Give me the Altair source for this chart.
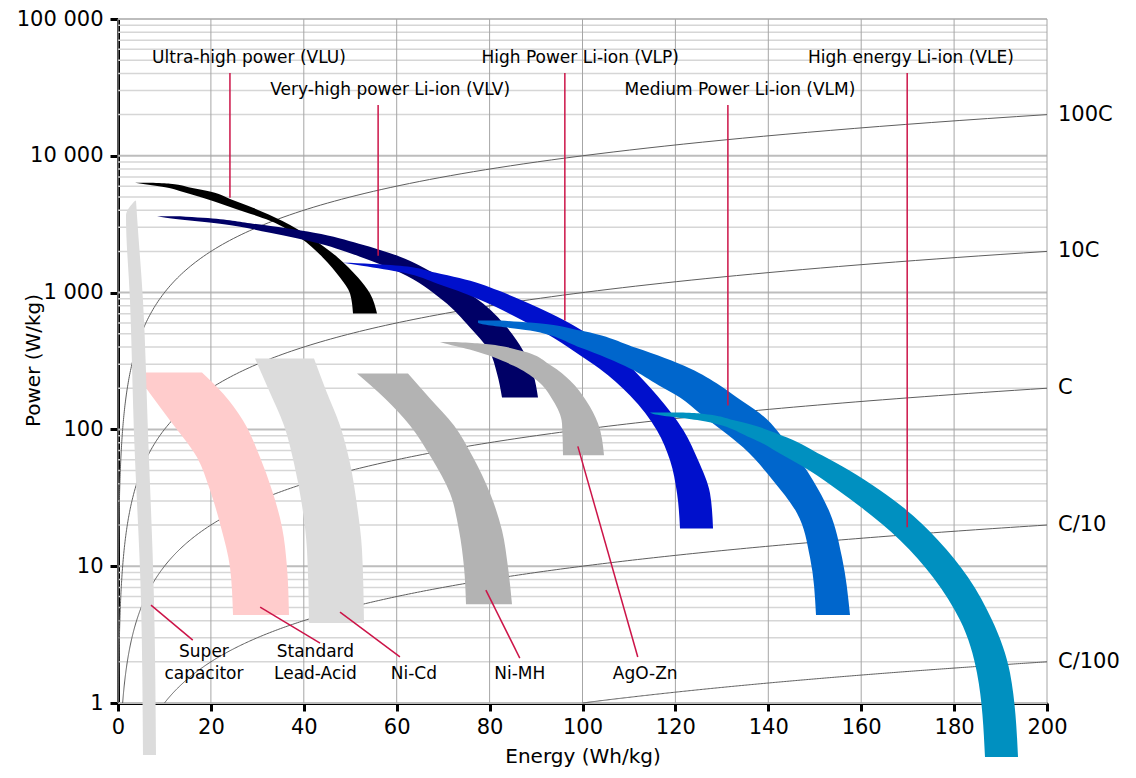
import altair as alt
import numpy as np
import pandas as pd

FONT = "DejaVu Sans"
CRIMSON = "#CC1448"

# ---------------- axes ----------------
X_TICKS = [0, 20, 40, 60, 80, 100, 120, 140, 160, 180, 200]
Y_TICKS = [1, 10, 100, 1000, 10000, 100000]
Y_TICK_LABELS = ["1", "10", "100", "1 000", "10 000", "100 000"]
GRID_DECADES = [1, 10, 100, 1000, 10000]
GRID_MULTIPLES = [2, 3, 4, 5, 6, 7, 8, 9]

# ---------------- C-rate iso lines ----------------
C_RATES = [100, 10, 1, 0.1, 0.01]
C_LABELS = ["100C", "10C", "C", "C/10", "C/100"]

# ---------------- technology bands (power levels, energy range at each level) ----------------
BAND_NAMES = ["Standard Lead-Acid", "Super capacitor", "Ni-Cd", "Ni-MH", "VLU", "VLV",
              "AgO-Zn", "VLP", "VLM", "VLE"]
BAND_COLORS = ["#FFCCCC", "#DCDCDC", "#DCDCDC", "#B3B3B3", "#000000", "#000066",
               "#B3B3B3", "#0010CC", "#0066CC", "#0090C0"]

SUPERCAP_P = [4694, 3648, 874, 93.5, 5.65, 0.417]
SUPERCAP_E_LO = [3.66, 1.72, 2.58, 3.44, 4.95, 5.38]
SUPERCAP_E_HI = [3.88, 4.09, 5.38, 6.46, 7.75, 8.18]

LEADACID_P = [260.7, 183.2, 116.3, 62.5, 35.9, 19.3, 9.83, 4.39]
LEADACID_E_LO = [3.66, 6.89, 11.20, 17.01, 19.81, 22.17, 24.11, 24.76]
LEADACID_E_HI = [18.08, 22.61, 26.91, 30.57, 33.15, 35.31, 36.38, 36.81]

NICD_P = [329.8, 192.6, 106.9, 56.5, 27.9, 13.1, 3.84]
NICD_E_LO = [29.49, 32.51, 35.74, 37.89, 39.61, 40.69, 41.12]
NICD_E_HI = [42.20, 44.78, 47.79, 49.95, 51.45, 52.53, 52.96]

NIMH_P = [256.4, 168.4, 106.9, 62.5, 34.1, 18.3, 9.83, 5.28]
NIMH_E_LO = [51.45, 57.48, 62.86, 67.39, 71.48, 73.41, 74.49, 74.92]
NIMH_E_HI = [62.43, 67.17, 72.34, 76.43, 80.09, 82.67, 83.96, 84.82]

AGOZN_P = [435.2, 424.3, 377.2, 293.2, 227.9, 162.8, 110.6, 64.6]
AGOZN_E_LO = [69.32, 70.40, 76.43, 85.04, 90.21, 93.65, 95.59, 95.80]
AGOZN_E_HI = [72.55, 77.93, 86.55, 93.22, 97.31, 100.76, 103.34, 104.63]

VLU_P = [6352, 6246, 5840, 5461, 4773, 4173, 3354, 2520, 1801, 1287, 983, 702]
VLU_E_LO = [3.66, 5.08, 10.76, 13.84, 19.59, 24.61, 32.72, 39.18, 44.13, 47.79, 49.95, 50.59]
VLU_E_HI = [6.89, 11.20, 15.72, 20.02, 24.54, 29.06, 35.31, 41.55, 47.36, 51.67, 54.25, 55.76]

VLV_P = [3618, 3527, 3189, 2742, 2279, 1831, 1400, 874, 555.3, 377.2, 256.4, 171.2]
VLV_E_LO = [8.40, 10.33, 21.96, 32.72, 43.49, 52.10, 60.71, 69.97, 75.78, 79.87, 81.59, 82.67]
VLV_E_HI = [13.35, 18.30, 29.06, 42.20, 51.88, 60.71, 67.82, 77.72, 83.75, 87.19, 89.34, 90.42]

VLP_P = [1656, 1574, 1400, 1163, 1034, 790.6, 624.6, 461.6, 346.8, 278.8, 177.1, 98.3, 59.4, 34.1, 18.9]
VLP_E_LO = [48.44, 52.53, 61.36, 68.78, 72.98, 81.16, 87.11, 94.00, 99.53, 103.62, 110.23, 116.04, 118.84, 120.35, 120.99]
VLP_E_HI = [49.95, 60.71, 68.25, 77.93, 81.90, 89.95, 96.15, 102.65, 108.08, 110.72, 116.06, 121.75, 124.89, 127.45, 128.10]

VLM_P = [624.6, 604, 528, 396.8, 278.8, 209.5, 171.2, 130.9, 73.9, 42.4, 24.4, 11.6, 4.39]
VLM_E_LO = [77.50, 77.50, 88.70, 99.46, 110.23, 116.47, 120.99, 125.30, 134.56, 141.01, 146.18, 148.98, 150.27]
VLM_E_HI = [82.24, 88.70, 99.46, 111.31, 123.15, 129.60, 133.26, 138.22, 144.67, 149.63, 153.29, 155.87, 157.59]

VLE_P = [133.1, 130.9, 116.3, 87.4, 64.6, 50.2, 35.9, 26.96, 15.5, 8.31, 4.04, 1.66, 0.403]
VLE_E_LO = [114.53, 114.96, 125.30, 136.06, 143.17, 148.77, 155.01, 159.96, 168.36, 175.46, 181.27, 184.93, 186.65]
VLE_E_HI = [120.99, 125.30, 132.83, 144.03, 151.56, 157.38, 164.05, 169.00, 176.54, 182.99, 188.16, 192.04, 193.76]

# ---------------- annotations ----------------
TOP_LABELS = ["Ultra-high power (VLU)", "Very-high power Li-ion (VLV)", "High Power Li-ion (VLP)",
              "Medium Power Li-ion (VLM)", "High energy Li-ion (VLE)"]
TOP_LABEL_E = [28.2, 58.6, 99.5, 133.9, 170.7]
TOP_LABEL_P = [51900, 30320, 51900, 30320, 51900]
TOP_LEADER_E = [24.1, 56.0, 96.2, 131.3, 169.9]
TOP_LEADER_P0 = [40360, 23560, 40360, 23560, 40360]
TOP_LEADER_P1 = [4935, 1862, 625, 149.7, 19.3]

BOTTOM_LEADER_E0 = [7.1, 30.6, 47.8, 79.2, 99.0]
BOTTOM_LEADER_P0 = [5.19, 5.02, 4.62, 6.68, 75.2]
BOTTOM_LEADER_E1 = [16.1, 43.5, 60.7, 86.5, 111.9]
BOTTOM_LEADER_P1 = [2.88, 2.74, 2.17, 2.13, 2.17]

BOTTOM_TEXT = ["Super", "capacitor", "Standard", "Lead-Acid", "Ni-Cd", "Ni-MH", "AgO-Zn"]
BOTTOM_TEXT_E = [18.5, 18.5, 42.5, 42.5, 63.7, 86.5, 113.5]
BOTTOM_TEXT_P = [2.36, 1.64, 2.36, 1.64, 1.64, 1.64, 1.64]

# ---------------- build tables ----------------
band_series = {
    "Super capacitor": (SUPERCAP_P, SUPERCAP_E_LO, SUPERCAP_E_HI),
    "Standard Lead-Acid": (LEADACID_P, LEADACID_E_LO, LEADACID_E_HI),
    "Ni-Cd": (NICD_P, NICD_E_LO, NICD_E_HI),
    "Ni-MH": (NIMH_P, NIMH_E_LO, NIMH_E_HI),
    "AgO-Zn": (AGOZN_P, AGOZN_E_LO, AGOZN_E_HI),
    "VLU": (VLU_P, VLU_E_LO, VLU_E_HI),
    "VLV": (VLV_P, VLV_E_LO, VLV_E_HI),
    "VLP": (VLP_P, VLP_E_LO, VLP_E_HI),
    "VLM": (VLM_P, VLM_E_LO, VLM_E_HI),
    "VLE": (VLE_P, VLE_E_LO, VLE_E_HI),
}

c_rows = []
for rate, lab in zip(C_RATES, C_LABELS):
    for e in np.geomspace(1.0 / rate, 200, 300):
        c_rows.append({"rate": lab, "E": e, "P": rate * e})
c_df = pd.DataFrame(c_rows)
c_lab_df = pd.DataFrame({"label": C_LABELS, "E": [200] * len(C_RATES),
                         "P": [r * 200 for r in C_RATES]})

minor_vals = [m * d for d in GRID_DECADES for m in GRID_MULTIPLES]
hminor_df = pd.DataFrame({"P": minor_vals})
hmajor_df = pd.DataFrame({"P": Y_TICKS})
vgrid_df = pd.DataFrame({"E": X_TICKS})

top_df = pd.DataFrame({"label": TOP_LABELS, "E": TOP_LABEL_E, "P": TOP_LABEL_P,
                       "LE": TOP_LEADER_E, "P0": TOP_LEADER_P0, "P1": TOP_LEADER_P1})
bot_lead_df = pd.DataFrame({"E0": BOTTOM_LEADER_E0, "P0": BOTTOM_LEADER_P0,
                            "E1": BOTTOM_LEADER_E1, "P1": BOTTOM_LEADER_P1})
bot_text_df = pd.DataFrame({"label": BOTTOM_TEXT, "E": BOTTOM_TEXT_E, "P": BOTTOM_TEXT_P})

# ---------------- scales / axes ----------------
xscale = alt.Scale(domain=[0, 200], nice=False, zero=False)
yscale = alt.Scale(type="log", domain=[1, 100000], nice=False)

label_expr = "''"
for v, lab in reversed(list(zip(Y_TICKS, Y_TICK_LABELS))):
    label_expr = f"datum.value == {v} ? '{lab}' : ({label_expr})"

x_axis = alt.Axis(values=X_TICKS, title="Energy (Wh/kg)", grid=False,
                  domainColor="black", domainWidth=3, tickColor="black", tickWidth=3,
                  tickSize=8, labelFont=FONT, labelFontSize=21, labelColor="black",
                  labelPadding=5, labelFlush=False, labelOverlap=False,
                  titleFont=FONT, titleFontSize=20, titleFontWeight="normal",
                  titleColor="black", titleY=53, titleBaseline="middle")
y_axis = alt.Axis(values=Y_TICKS, labelExpr=label_expr, title="Power (W/kg)", grid=False,
                  domainColor="black", domainWidth=3, tickColor="black", tickWidth=3,
                  tickSize=8, labelFont=FONT, labelFontSize=21, labelColor="black",
                  labelPadding=7, labelFlush=False, labelOverlap=False,
                  titleFont=FONT, titleFontSize=20, titleFontWeight="normal",
                  titleColor="black", titleX=-85, titleY=341, titleAngle=270,
                  titleAlign="center", titleBaseline="middle")

def X(field):
    return alt.X(field, type="quantitative", scale=xscale, axis=x_axis)

def Y(field):
    return alt.Y(field, type="quantitative", scale=yscale, axis=y_axis)

layers = []
layers.append(alt.Chart(hminor_df).mark_rule(color="#D6D6D6", strokeWidth=1.5)
              .encode(y=Y("P")))
layers.append(alt.Chart(hmajor_df).mark_rule(color="#BDBDBD", strokeWidth=2)
              .encode(y=Y("P")))
layers.append(alt.Chart(vgrid_df).mark_rule(color="#A6A6A6", strokeWidth=1)
              .encode(x=X("E")))
layers.append(alt.Chart(c_df).mark_line(color="#5E5E5E", strokeWidth=1)
              .encode(x=X("E"), y=Y("P"), detail="rate:N", order=alt.Order("E:Q")))

for name, color in zip(BAND_NAMES, BAND_COLORS):
    ps, lo, hi = band_series[name]
    df = pd.DataFrame({"P": ps, "lo": lo, "hi": hi})
    layers.append(alt.Chart(df).mark_area(orient="horizontal", interpolate="monotone",
                                          color=color)
                  .encode(y=Y("P"), x=X("lo"), x2="hi"))

layers.append(alt.Chart(top_df).mark_rule(color=CRIMSON, strokeWidth=1.5)
              .encode(x=X("LE"), y=Y("P0"), y2="P1:Q"))
layers.append(alt.Chart(bot_lead_df).mark_rule(color=CRIMSON, strokeWidth=1.5)
              .encode(x=X("E0"), x2="E1:Q", y=Y("P0"), y2="P1:Q"))
layers.append(alt.Chart(top_df).mark_text(font=FONT, fontSize=17, color="black",
                                          align="center", baseline="middle")
              .encode(x=X("E"), y=Y("P"), text="label:N"))
layers.append(alt.Chart(bot_text_df).mark_text(font=FONT, fontSize=17, color="black",
                                               align="center", baseline="middle")
              .encode(x=X("E"), y=Y("P"), text="label:N"))
layers.append(alt.Chart(c_lab_df).mark_text(font=FONT, fontSize=21, color="black",
                                            align="left", baseline="middle", dx=11)
              .encode(x=X("E"), y=Y("P"), text="label:N"))

chart = (
    alt.layer(*layers)
    .properties(width=929, height=684,
                autosize=alt.AutoSizeParams(type="none"),
                padding={"left": 110, "top": 11, "right": 81, "bottom": 67},
                background="white")
    .configure_view(stroke=None)
)

chart.save("out.html", embed_options={"renderer": "svg", "actions": False})
